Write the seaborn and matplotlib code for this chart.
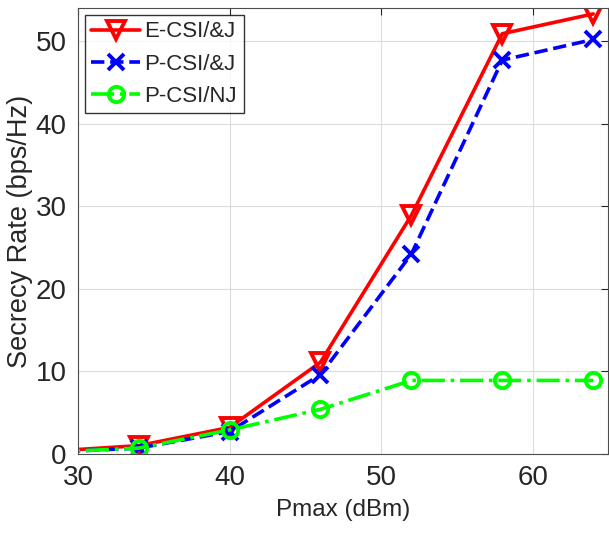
import pandas as pd
import seaborn as sns
import matplotlib.pyplot as plt

# --- data ---
pmax = [28, 34, 40, 46, 52, 58, 64]
e_csi_aj = [0.3, 1.0, 3.2, 11.1, 28.9, 50.9, 53.3]
p_csi_aj = [0.2, 0.7, 2.7, 9.6, 24.2, 47.7, 50.2]
p_csi_nj = [0.2, 0.7, 2.9, 5.4, 8.9, 8.9, 8.9]
labels = ['E-CSI/&J', 'P-CSI/&J', 'P-CSI/NJ']

sns.set_style('white')
plt.rcParams['font.family'] = ['Liberation Sans', 'DejaVu Sans']

fig = plt.figure(figsize=(6.09, 5.41), dpi=100)
ax = fig.add_axes([0.128, 0.161, 0.871, 0.824])

series = [
    (e_csi_aj, '#ff0000', '-', 'v', 13),
    (p_csi_aj, '#0000ff', '--', 'x', 12),
    (p_csi_nj, '#00ff00', '-.', 'o', 11),
]
for (vals, col, ls, mk, ms), lab in zip(series, labels):
    df = pd.DataFrame({'pmax': pmax, 'rate': vals})
    sns.lineplot(data=df, x='pmax', y='rate', ax=ax, color=col, linestyle=ls,
                 marker=mk, markersize=ms, markerfacecolor='none',
                 markeredgecolor=col, markeredgewidth=2.8, linewidth=2.6,
                 label=lab)

ax.set_xlim(30, 65)
ax.set_ylim(0, 54)
ax.set_xticks([30, 40, 50, 60])
ax.set_yticks([0, 10, 20, 30, 40, 50])
ax.grid(True, color='#dcdcdc', linewidth=0.8)
ax.tick_params(direction='in', length=5, width=0.8, colors='#262626',
               labelsize=20, top=True, right=True, pad=8)
for s in ax.spines.values():
    s.set_color('#4d4d4d')
    s.set_linewidth(0.8)
    s.set_visible(True)
ax.set_xlabel('Pmax (dBm)', fontsize=17.5, color='#262626', labelpad=6)
ax.set_ylabel('Secrecy Rate (bps/Hz)', fontsize=19.5, color='#262626', labelpad=2)

leg = ax.legend(loc='upper left', fontsize=16, frameon=True, fancybox=False,
                edgecolor='black', borderaxespad=0.3, handlelength=2.2,
                handletextpad=0.2, labelspacing=0.5, borderpad=0.3)
leg.get_frame().set_linewidth(1.0)

plt.savefig('out.png', dpi=100)
plt.close()
